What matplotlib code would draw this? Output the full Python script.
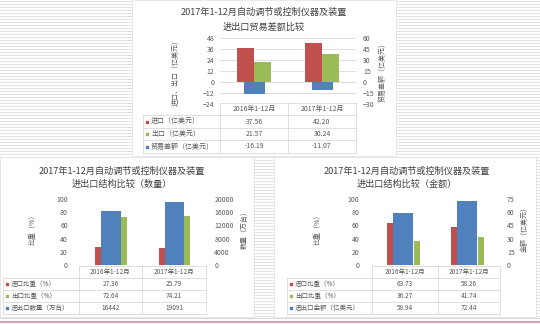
import matplotlib
matplotlib.use("Agg")
import matplotlib.pyplot as plt
from matplotlib.patches import Rectangle

plt.rcParams['font.family'] = ['Noto Sans CJK SC', 'DejaVu Sans']

W, H = 540, 325

# ---- data ----
cats = ['2016年1-12月', '2017年1-12月']
title1 = '2017年1-12月自动调节或控制仪器及装置'

# top chart: trade balance
imp_value = [37.56, 42.20]
exp_value = [21.57, 30.24]
balance = [-16.19, -11.07]

# bottom left: structure by quantity
imp_share_qty = [27.36, 25.79]
exp_share_qty = [72.64, 74.21]
quantity = [16442, 19091]

# bottom right: structure by value
imp_share_val = [63.73, 58.26]
exp_share_val = [36.27, 41.74]
total_value = [58.94, 72.44]

RED, GREEN, BLUE = '#C0504D', '#9BBB59', '#4F81BD'
TXT = '#595959'
BORDER = '#d9d9d9'

fig = plt.figure(figsize=(W / 100, H / 100), dpi=100)
fig.patch.set_facecolor('white')

# background with lined paper look, pixel coordinates
bg = fig.add_axes([0, 0, 1, 1], zorder=0)
bg.set_xlim(0, W)
bg.set_ylim(H, 0)
bg.axis('off')
for y in range(1, 318, 3):
    bg.plot([0, W], [y, y], color='#e6e1e8', lw=0.7)
bg.plot([0, W], [317.5, 317.5], color='#d8d8d8', lw=0.8)
bg.plot([0, W], [321.5, 321.5], color='#c9a9b6', lw=1.6)
for (x0, y0, x1, y1) in [(132, 0, 396, 156), (0, 157, 254, 317), (274, 157, 536, 317)]:
    bg.add_patch(Rectangle((x0, y0), x1 - x0, y1 - y0, facecolor='white',
                           edgecolor='#e4e4e4', lw=0.6, zorder=3))

# overlay for text and tables
ov = fig.add_axes([0, 0, 1, 1], zorder=5)
ov.set_xlim(0, W)
ov.set_ylim(H, 0)
ov.axis('off')
ov.patch.set_alpha(0)


def px_axes(x0, y0, x1, y1):
    ax = fig.add_axes([x0 / W, 1 - y1 / H, (x1 - x0) / W, (y1 - y0) / H], zorder=4)
    ax.patch.set_alpha(0)
    return ax


def chart(box, lticks, rticks, series, lpad, rpad, grid):
    x0, y0, x1, y1 = box
    ax = px_axes(x0, y0, x1, y1)
    ax2 = ax.twinx()
    ax.set_xlim(-0.5, 1.5)
    ax.set_ylim(lticks[0], lticks[-1])
    ax2.set_ylim(rticks[0], rticks[-1])
    ax.set_yticks(lticks)
    ax2.set_yticks(rticks)
    ax.set_xticks([])
    for a, pad in ((ax, lpad), (ax2, rpad)):
        for s in a.spines.values():
            s.set_visible(False)
        a.tick_params(axis='y', length=0, labelsize=5, labelcolor=TXT, pad=pad)
    if grid:
        for t in lticks:
            ax.axhline(t, color=BORDER, lw=0.6, zorder=0)
    for vals, color, off, wd, secondary in series:
        target = ax2 if secondary else ax
        target.bar([i + off for i in range(len(vals))], vals, width=wd, color=color, zorder=2)
    return ax


def table(x_left, cols, rows_y, rows, fs):
    # header
    ov.plot([cols[0], cols[-1]], [rows_y[0], rows_y[0]], color=BORDER, lw=0.6)
    for i, c in enumerate(cats):
        ov.text((cols[i] + cols[i + 1]) / 2, (rows_y[0] + rows_y[1]) / 2, c,
                ha='center', va='center', fontsize=fs, color=TXT)
    for x in cols:
        ov.plot([x, x], [rows_y[0], rows_y[-1]], color=BORDER, lw=0.6)
    ov.plot([x_left, x_left], [rows_y[1], rows_y[-1]], color=BORDER, lw=0.6)
    for y in rows_y[1:]:
        ov.plot([x_left, cols[-1]], [y, y], color=BORDER, lw=0.6)
    for r, (label, color, vals) in enumerate(rows):
        yc = (rows_y[r + 1] + rows_y[r + 2]) / 2
        ov.scatter([x_left + 4], [yc], marker='s', s=3, color=color)
        ov.text(x_left + 8, yc, label, ha='left', va='center', fontsize=fs, color=TXT)
        for i, v in enumerate(vals):
            ov.text((cols[i] + cols[i + 1]) / 2, yc, v, ha='center', va='center',
                    fontsize=fs, color=TXT)


def fmt(vals):
    return ['%.2f' % v for v in vals]


# ---- top chart ----
ov.text(264, 12, title1, ha='center', va='center', fontsize=6.6, color='#404040')
ov.text(264, 27, '进出口贸易差额比较', ha='center', va='center', fontsize=6.6, color='#404040')
chart((220, 38, 356, 104), list(range(-24, 49, 12)), list(range(-30, 61, 15)),
      [(imp_value, RED, -0.125, 0.25, False),
       (exp_value, GREEN, 0.125, 0.24, False),
       (balance, BLUE, 0.01, 0.31, True)], 4, 5, True)
ov.text(176, 71, '进口、出口（亿美元）', rotation=90, ha='center', va='center', fontsize=5, color=TXT)
ov.text(383, 71, '贸易差额（亿美元）', rotation=90, ha='center', va='center', fontsize=5, color=TXT)
table(143, [220, 288, 356], [103, 115, 128, 140, 153],
      [('进口（亿美元）', RED, fmt(imp_value)),
       ('出口（亿美元）', GREEN, fmt(exp_value)),
       ('贸易差额（亿美元）', BLUE, fmt(balance))], 5)

# ---- bottom left chart ----
ov.text(122, 171, title1, ha='center', va='center', fontsize=6.6, color='#404040')
ov.text(122, 184, '进出口结构比较（数量）', ha='center', va='center', fontsize=6.6, color='#404040')
chart((79, 199, 206, 265), list(range(0, 101, 20)), list(range(0, 20001, 4000)),
      [(imp_share_qty, RED, -0.195, 0.095, False),
       (exp_share_qty, GREEN, 0.205, 0.095, False),
       (quantity, BLUE, 0.005, 0.305, True)], 8, 6, False)
ov.text(33, 228, '比重（%）', rotation=90, ha='center', va='center', fontsize=5, color=TXT)
ov.text(245, 228, '数量（万台）', rotation=90, ha='center', va='center', fontsize=5, color=TXT)
table(3, [79, 142, 206], [266, 278, 290, 302, 314],
      [('进口比重（%）', RED, fmt(imp_share_qty)),
       ('出口比重（%）', GREEN, fmt(exp_share_qty)),
       ('进出口数量（万台）', BLUE, [str(v) for v in quantity])], 4.7)

# ---- bottom right chart ----
ov.text(407, 171, title1, ha='center', va='center', fontsize=6.6, color='#404040')
ov.text(407, 184, '进出口结构比较（金额）', ha='center', va='center', fontsize=6.6, color='#404040')
chart((372, 199, 500, 265), list(range(0, 101, 20)), list(range(0, 76, 15)),
      [(imp_share_val, RED, -0.215, 0.095, False),
       (exp_share_val, GREEN, 0.2, 0.095, False),
       (total_value, BLUE, -0.01, 0.31, True)], 9, 5, False)
ov.text(318, 228, '比重（%）', rotation=90, ha='center', va='center', fontsize=5, color=TXT)
ov.text(525, 228, '金额（亿美元）', rotation=90, ha='center', va='center', fontsize=5, color=TXT)
table(287, [372, 438, 500], [266, 278, 290, 302, 314],
      [('进口比重（%）', RED, fmt(imp_share_val)),
       ('出口比重（%）', GREEN, fmt(exp_share_val)),
       ('进出口金额（亿美元）', BLUE, fmt(total_value))], 4.7)

fig.savefig('out.png', dpi=100)
